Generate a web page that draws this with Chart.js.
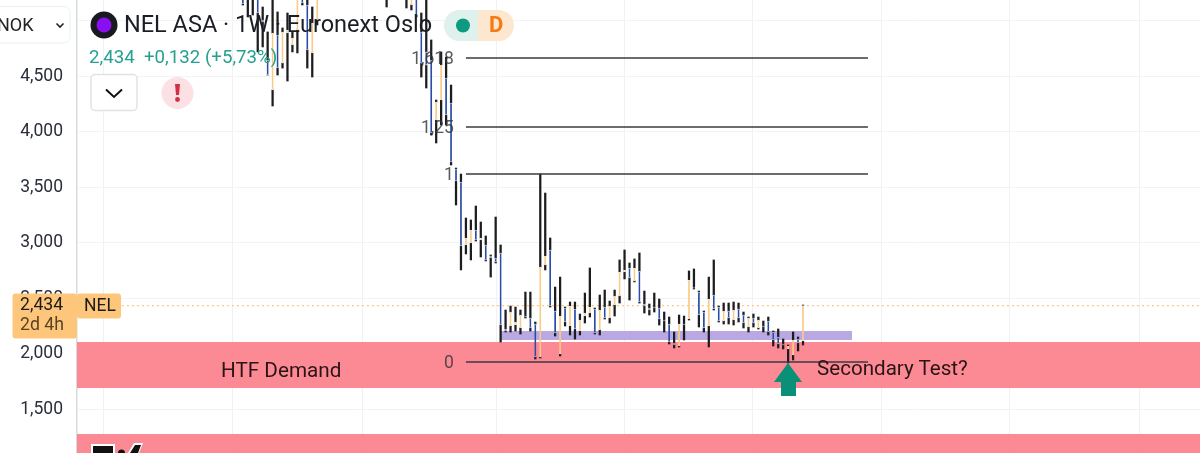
<!DOCTYPE html>
<html><head><meta charset="utf-8">
<script src="https://cdn.jsdelivr.net/npm/chart.js@4/dist/chart.umd.min.js"></script>
<style>
html,body{margin:0;padding:0;background:#fff;width:1200px;height:453px;overflow:hidden;font-family:Roboto,sans-serif}
#wrap{position:relative;width:1200px;height:453px;overflow:hidden}
canvas{position:absolute;left:0;top:0}
.t{position:absolute;white-space:nowrap;line-height:1}
svg{position:absolute;left:0;top:0}
</style></head><body>
<div id="wrap">
<canvas id="c" width="1200" height="453"></canvas>
<svg width="1200" height="453" viewBox="0 0 1200 453">
  <rect x="-10" y="6.5" width="80" height="36.5" rx="6" fill="#fff" stroke="#eceef0"/>
  <path d="M56.5 23.5l3.5 3.5 3.5-3.5" fill="none" stroke="#222" stroke-width="1.6"/>
  <circle cx="104" cy="25" r="13.5" fill="#191a20"/><circle cx="104" cy="25" r="7.5" fill="#8a0ff0"/>
  <path d="M444 25.5a15.5 15.5 0 0 1 15.5-15.5H478v31h-18.5A15.5 15.5 0 0 1 444 25.5z" fill="#dff1ec"/>
  <path d="M478 10h20.5a15.5 15.5 0 0 1 0 31H478z" fill="#fde7cf"/>
  <circle cx="463" cy="25.5" r="7" fill="#0e9a80"/>
  <rect x="91" y="74.5" width="46" height="36" rx="4" fill="#fff" stroke="#e0e2e5" stroke-width="1.5"/>
  <path d="M106 89.5l8 7.5 8-7.5" fill="none" stroke="#111" stroke-width="2"/>
  <circle cx="177.5" cy="93" r="16" fill="#fbe1e4"/>
  <path d="M175 84h5l-1 11h-3z" fill="#d32f45"/><circle cx="177.5" cy="99.5" r="2.4" fill="#d32f45"/>
  <rect x="12.5" y="293.5" width="64.5" height="45" rx="3" fill="#fdc67a"/>
  <rect x="77" y="293.5" width="44" height="25" rx="3" fill="#fdc67a"/>
  <path d="M788 363l14 19h-6v14h-15v-14h-7z" fill="#0a8f78"/>
  <path d="M91 453v-9h24v9M116 453v-3M128 453l6-10h9l-4 10z" fill="#fff"/>
  <path d="M93 453v-7h20v7zM118 453a3.5 3.5 0 0 1 7 0zM130 453l5-8h6l-3 8z" fill="#111"/>
</svg>
<div class="t" style="left:-3px;top:16px;font-size:18px;color:#222">NOK</div>
<div class="t" style="left:124px;top:13px;font-size:23.5px;color:#1b1d24">NEL ASA · 1W · Euronext Oslo</div>
<div class="t" style="left:489px;top:14px;font-size:22px;font-weight:700;color:#f57c14">D</div>
<div class="t" style="left:89px;top:48px;font-size:18.7px;color:#26a08f">2,434&nbsp; +0,132 (+5,73%)</div>
<div class="t" style="left:20px;top:296px;font-size:17.7px;color:#1c1c1c">2,434</div>
<div class="t" style="left:20px;top:316px;font-size:17.7px;color:#5a4423">2d 4h</div>
<div class="t" style="left:84px;top:297px;font-size:17.5px;color:#1c1c1c">NEL</div>
<div class="t" style="left:221px;top:360px;font-size:20.7px;color:#2a1416">HTF Demand</div>
<div class="t" style="left:817px;top:358px;font-size:20.6px;color:#2a1416">Secondary Test?</div>
</div>
<script>
const xGridTicks=[5.79,31.81,58.04,85.07,110.89,136.9,162.8,188.7,214.9];
const yTickStep=0.5;
const lastPrice=2.434;
const fibLabels=["1,618","1,25","1","0"];
const fibLevels=[4.664,4.043,3.619,1.926];
const fibSpan=[79,160.1];
const demandZone=[2.106,1.691];
const lowerZone=[1.277,1.106];
const baseZone=[2.205,2.124];
const baseSpan=[85.9,156.9];
const weeks=[34,35,36,37,38,39,40,41,42,43,44,45,46,47,48,49,63,67,68,69,70,71,72,73,74,75,76,77,78,79,80,81,82,83,84,85,86,87,88,89,90,91,92,93,94,95,96,97,98,99,100,101,102,103,104,105,106,107,108,109,110,111,112,113,114,115,116,117,118,119,120,121,122,123,124,125,126,127,128,129,130,131,132,133,134,135,136,137,138,139,140,141,142,143,144,145,146,147];
const highs=[5.30,5.35,5.40,5.40,5.124,4.899,5.30,5.079,4.935,5.070,4.899,5.30,5.30,5.30,5.124,5.30,5.30,5.30,5.30,5.30,5.070,5.30,4.827,4.286,4.719,4.673,4.421,3.673,3.619,3.223,3.205,3.331,3.187,3.061,2.890,3.232,2.980,2.394,2.430,2.421,2.394,2.556,2.556,2.286,3.619,3.448,3.043,2.601,2.691,2.421,2.466,2.466,2.358,2.547,2.773,2.412,2.529,2.574,2.475,2.574,2.845,2.935,2.818,2.854,2.908,2.565,2.448,2.547,2.493,2.376,2.331,2.196,2.349,2.340,2.746,2.764,2.565,2.385,2.691,2.845,2.430,2.457,2.457,2.466,2.457,2.376,2.331,2.358,2.331,2.295,2.331,2.205,2.223,2.133,2.079,2.196,2.151,2.439];
const opens=[5.25,5.30,5.40,5.30,5.007,4.646,4.376,4.872,4.619,4.890,4.782,4.917,5.25,5.142,4.710,5.007,5.28,5.28,5.142,5.25,4.899,4.719,4.646,4.106,4.286,4.484,4.259,3.664,3.547,2.980,2.998,3.115,3.025,2.980,2.881,2.863,2.908,2.223,2.250,2.259,2.232,2.340,2.322,2.268,1.971,2.800,2.935,2.385,1.998,2.412,2.250,2.403,2.205,2.340,2.367,2.403,2.214,2.421,2.322,2.439,2.520,2.737,2.773,2.656,2.746,2.448,2.412,2.421,2.412,2.304,2.268,2.097,2.070,2.268,2.313,2.601,2.556,2.376,2.250,2.529,2.421,2.295,2.385,2.304,2.403,2.349,2.241,2.322,2.232,2.250,2.295,2.196,2.151,2.088,2.043,1.989,2.133,2.115];
const closes=[5.151,5.25,5.30,5.070,4.989,4.511,4.890,4.574,4.899,4.917,4.845,5.25,5.160,4.737,4.980,5.25,5.25,5.25,5.25,5.052,4.619,4.601,3.989,4.268,4.601,4.151,3.728,3.556,2.971,3.043,3.115,3.025,3.043,2.845,2.863,2.827,2.259,2.205,2.376,2.286,2.349,2.331,2.232,1.971,2.782,2.881,2.430,2.187,2.340,2.286,2.430,2.223,2.304,2.367,2.421,2.187,2.394,2.322,2.430,2.520,2.737,2.755,2.683,2.773,2.466,2.430,2.394,2.412,2.313,2.295,2.106,2.079,2.268,2.259,2.664,2.592,2.349,2.232,2.493,2.403,2.295,2.385,2.322,2.394,2.322,2.277,2.322,2.277,2.304,2.241,2.196,2.124,2.088,2.079,2.070,2.124,2.097,2.434];
const lows=[5.142,5.034,5.052,4.719,4.764,4.511,4.232,4.511,4.574,4.457,4.719,4.710,5.142,4.574,4.493,4.962,5.124,5.115,5.097,5.034,4.493,4.394,3.971,3.899,4.061,4.061,3.700,3.340,2.755,2.899,2.845,3.016,2.872,2.836,2.691,2.818,2.106,2.196,2.196,2.205,2.178,2.322,2.205,1.953,1.962,2.755,2.421,2.160,1.980,2.250,2.169,2.133,2.169,2.277,2.331,2.178,2.169,2.313,2.277,2.340,2.457,2.674,2.484,2.647,2.457,2.367,2.349,2.376,2.259,2.196,2.088,2.052,2.061,2.124,2.304,2.583,2.241,2.196,2.061,2.394,2.286,2.268,2.268,2.259,2.286,2.232,2.196,2.241,2.223,2.196,2.169,2.070,2.052,2.043,1.917,1.944,2.025,2.079];

const X_MIN=0.54,X_MAX=227.09,Y_MIN=1.106,Y_MAX=5.187;
const upperWick=weeks.map((w,i)=>({x:w,y:[Math.max(opens[i],closes[i]),highs[i]]}));
const lowerWick=weeks.map((w,i)=>({x:w,y:[lows[i],Math.min(opens[i],closes[i])]}));
const upData=weeks.map((w,i)=>({x:w,y:[opens[i],closes[i]],up:closes[i]>=opens[i]})).filter(d=>d.up);
const downData=weeks.map((w,i)=>({x:w,y:[closes[i],opens[i]],up:closes[i]>=opens[i]})).filter(d=>!d.up);
const band=(top,bottom,from,to,color)=>({type:'line',data:[{x:from,y:top},{x:to,y:top}],fill:{value:bottom},backgroundColor:color,borderWidth:0,pointRadius:0,order:10});
const level=(v)=>({type:'line',data:[{x:fibSpan[0],y:v},{x:fibSpan[1],y:v}],borderColor:'#3a3a40',borderWidth:1.4,pointRadius:0,fill:false,order:1});
const fibText={id:'fibText',afterDatasetsDraw(ch){
  const c=ch.ctx,y=ch.scales.y,x=ch.scales.x;
  c.save();c.font='17.5px Roboto';c.fillStyle='rgba(50,52,60,0.82)';c.textAlign='right';c.textBaseline='middle';
  fibLabels.forEach((l,i)=>c.fillText(l,x.getPixelForValue(fibSpan[0])-12,y.getPixelForValue(fibLevels[i])+1.5));
  c.restore();}};
const bodyStyle={barThickness:1.7,grouped:false,order:3,borderColor:'#ffffff',borderWidth:{top:0.8,bottom:0.8,left:0,right:0},borderSkipped:false};
const wickStyle={backgroundColor:'#1d1d1f',barThickness:1.6,grouped:false,order:4};
new Chart(document.getElementById('c'),{
  type:'bar',
  data:{datasets:[
    band(demandZone[0],demandZone[1],X_MIN,X_MAX,'rgba(252,125,136,0.9)'),
    band(lowerZone[0],lowerZone[1],X_MIN,X_MAX,'rgba(252,125,136,0.9)'),
    {...band(baseZone[0],baseZone[1],baseSpan[0],baseSpan[1],'#baa8e2'),order:9},
    {type:'line',data:[{x:9.6,y:lastPrice},{x:X_MAX,y:lastPrice}],borderColor:'#f9c88a',borderWidth:1.2,borderDash:[2,3],pointRadius:0,fill:false,order:8},
    ...fibLevels.map(level),
    {data:upperWick,...wickStyle},
    {data:lowerWick,...wickStyle},
    {data:upData,backgroundColor:'#f9cb87',...bodyStyle},
    {data:downData,backgroundColor:'#2a4ea6',...bodyStyle}
  ]},
  plugins:[fibText],
  options:{
    responsive:false,animation:false,devicePixelRatio:1,
    layout:{padding:0,autoPadding:false},
    plugins:{legend:{display:false},tooltip:{enabled:false}},
    scales:{
      x:{type:'linear',offset:false,min:X_MIN,max:X_MAX,
        afterBuildTicks(s){s.ticks=xGridTicks.map(v=>({value:v}));},
        afterFit(s){s.height=0;s.paddingLeft=0;s.paddingRight=0;},
        ticks:{display:false},grid:{offset:false,color:'#eff2f4',lineWidth:1,drawTicks:false},border:{display:false}},
      y:{type:'linear',min:Y_MIN,max:Y_MAX,
        afterFit(s){s.width=77;s.paddingTop=0;s.paddingBottom=0;},
        ticks:{stepSize:yTickStep,includeBounds:false,padding:14,color:'#2a2e39',font:{family:'Roboto',size:17.5},
          callback:v=>v.toFixed(3).replace('.',',')},
        grid:{color:'#f1f3f5',lineWidth:1,drawTicks:false},border:{color:'#d6dcdf',width:1.5}}
    }
  }
});
</script>
</body></html>
